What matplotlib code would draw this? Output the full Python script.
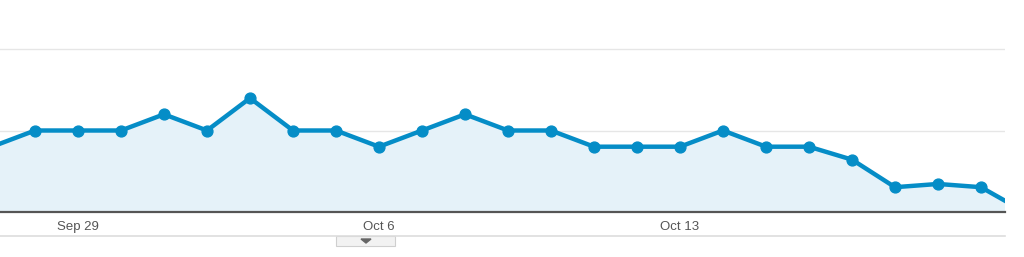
import matplotlib
matplotlib.use('Agg')
import matplotlib.pyplot as plt
import matplotlib.dates as mdates
from matplotlib.patches import Rectangle, Polygon
from matplotlib.lines import Line2D
import pandas as pd

# daily values, Sep 27 .. Oct 21 (first and last fall just outside the view)
dias = pd.date_range('2013-09-27', '2013-10-21')
valores = [40, 50, 50, 50, 60, 50, 70, 50, 50, 40, 50, 60, 50, 50,
           40, 40, 40, 50, 40, 40, 32, 15, 17, 15, 0]
etiquetas = ['Sep 29', 'Oct 6', 'Oct 13']
fechas_etiq = pd.to_datetime(['2013-09-29', '2013-10-06', '2013-10-13'])

azul = '#058DC7'
relleno = '#E5F2F9'

fig = plt.figure(figsize=(10.24, 2.57), dpi=100)
ax = fig.add_axes([0, 1 - 211.5 / 257, 1005 / 1024, 210.6 / 257])

x = mdates.date2num(dias)
ax.fill_between(x, valores, 0, color=relleno, zorder=1)
ax.plot(x, valores, color=azul, lw=3.2, marker='o', markersize=7.8, zorder=3)

for g in [50, 100]:
    ax.axhline(g, color='#E6E6E6', lw=1, zorder=0)

inicio = mdates.date2num(pd.Timestamp('2013-09-28'))
ax.set_xlim(inicio - 35 / 43, inicio + 22 + 24 / 43)
ax.set_ylim(0, 130)

for s in ['top', 'left', 'right']:
    ax.spines[s].set_visible(False)
ax.spines['bottom'].set_color('#555555')
ax.spines['bottom'].set_linewidth(1.6)
ax.set_yticks([])
ax.set_xticks(mdates.date2num(fechas_etiq))
ax.set_xticklabels(etiquetas, fontsize=9.5, color='#555555', family='Liberation Sans')
ax.tick_params(axis='x', length=0, pad=6.5)

# bottom rule and little tab
fig.add_artist(Line2D([0, 1005 / 1024], [1 - 236 / 257] * 2, color='#DDDDDD', lw=1.2))
fig.add_artist(Rectangle((336 / 1024, 1 - 246 / 257), 59 / 1024, 10 / 257,
                         facecolor='#F2F2F2', edgecolor='#CFCFCF', lw=0.8))
fig.add_artist(Polygon([(361 / 1024, 1 - 239 / 257), (371 / 1024, 1 - 239 / 257),
                        (366 / 1024, 1 - 243 / 257)], closed=True, color='#666666'))

fig.savefig('out.png', dpi=100, facecolor='white')
